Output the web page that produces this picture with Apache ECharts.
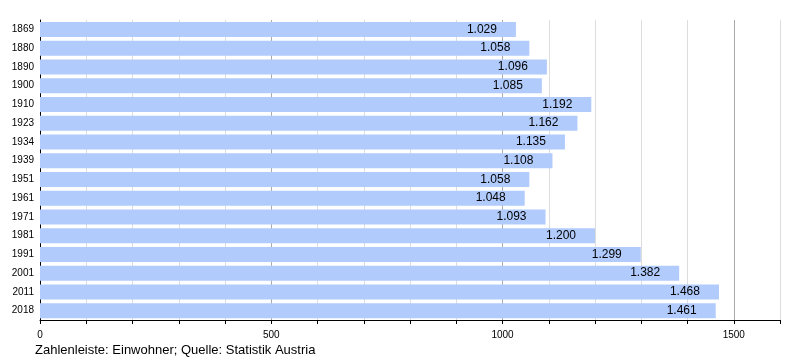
<!DOCTYPE html>
<html><head><meta charset="utf-8">
<script src="https://cdn.jsdelivr.net/npm/echarts@6/dist/echarts.min.js"></script>
<style>html,body{margin:0;padding:0;background:#fff}#c{width:800px;height:360px}</style>
</head><body><div id="c"></div>
<script>
const years = ['1869','1880','1890','1900','1910','1923','1934','1939','1951','1961','1971','1981','1991','2001','2011','2018'];
const population = [1029,1058,1096,1085,1192,1162,1135,1108,1058,1048,1093,1200,1299,1382,1468,1461];
const xTickLabels = [0,500,1000,1500];
const footer = 'Zahlenleiste: Einwohner; Quelle: Statistik Austria';

const fmt = v => { const s = String(v); return s.length > 3 ? s.slice(0, s.length-3) + '.' + s.slice(-3) : s; };
const chart = echarts.init(document.getElementById('c'), null, {renderer:'canvas'});
chart.setOption({
  animation:false,
  textStyle:{fontFamily:'Liberation Sans'},
  grid:{left:40,right:20,top:20,bottom:40,containLabel:false},
  title:{text:footer,left:30,top:339,textStyle:{fontSize:13,fontWeight:'normal',color:'#000',fontFamily:'Liberation Sans'}},
  xAxis:{type:'value',min:0,max:1600,interval:100,
    axisLine:{show:true,lineStyle:{color:'#000',width:1}},
    axisTick:{show:true,length:4,lineStyle:{color:'#000'}},
    axisLabel:{color:'#000',fontSize:10,margin:10,formatter:v => xTickLabels.includes(v) ? String(v) : ''},
    splitLine:{show:true,lineStyle:{color:['#aaa','#ddd','#ddd','#ddd','#ddd'],width:1}}
  },
  yAxis:{type:'category',data:years,inverse:true,
    axisLine:{show:true,lineStyle:{color:'#000',width:1}},
    axisTick:{show:false},
    axisLabel:{color:'#000',fontSize:10,margin:6}
  },
  series:[{type:'bar',data:population,barCategoryGap:'20%',
    itemStyle:{color:'#b1cbfd'},
    label:{show:true,position:'insideRight',distance:19,color:'#000',fontSize:12,formatter:p=>fmt(p.value)}
  }]
});
</script></body></html>
